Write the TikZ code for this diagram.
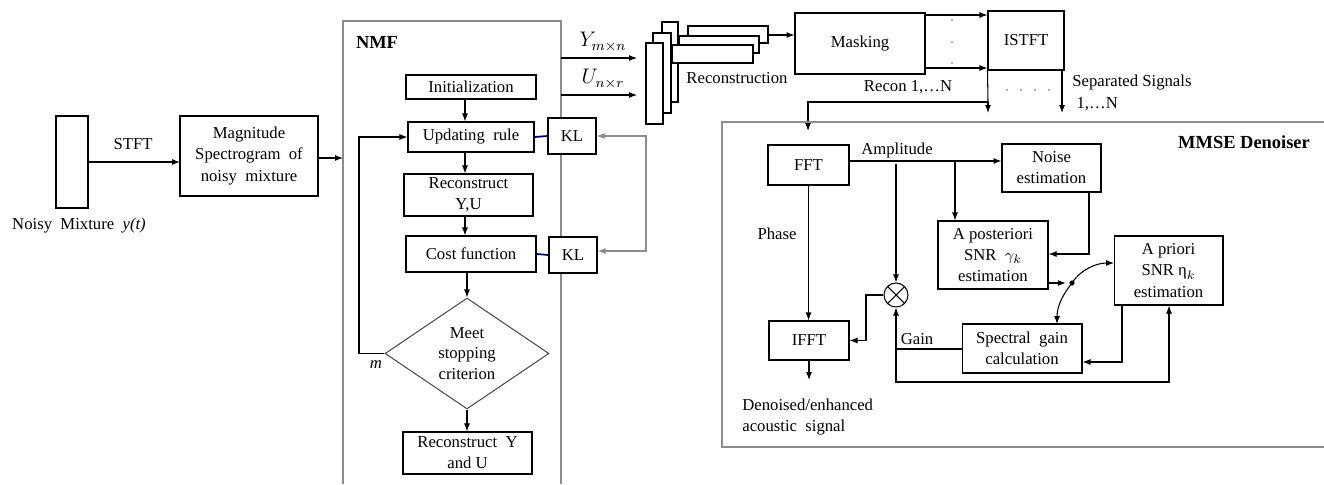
\documentclass[tikz,border=0pt]{standalone}
\usepackage{fontspec}
\setmainfont{Liberation Serif}
\usetikzlibrary{arrows.meta,shapes.geometric,calc}
\begin{document}
\begin{tikzpicture}[x=0.02cm,y=-0.02cm,
  font=\fontsize{9.5}{12}\selectfont,
  bx/.style={draw,line width=0.6pt,inner sep=0pt,align=center,fill=white},
  arr/.style={-{Latex[length=1.6mm,width=1.2mm]},line width=0.6pt},
  ln/.style={line width=0.6pt},
  grayln/.style={draw=black!45,line width=0.7pt},
  blueln/.style={draw=blue!35!black,line width=1pt},
  lbl/.style={inner sep=0pt,align=center},
  ttl/.style={inner sep=0pt,font=\fontsize{10.5}{12}\selectfont\bfseries}]
\useasboundingbox (0,0) rectangle (1324,484);

% ---------- left part
\node[bx,minimum width=0.64cm,minimum height=1.84cm] (mix) at (72,162) {};
\node[lbl] (mixlbl) at (79,226) {Noisy\ \ Mixture\ \ \textit{y(t)}};
\node[bx,minimum width=2.76cm,minimum height=1.6cm] (mag) at (249,156) {Magnitude\\Spectrogram\ \ of\\noisy\ \ mixture};
\coordinate (magin) at (180,162);
\draw[arr] (mix.east |- magin) -- (magin);
\node[lbl] (stft) at (133,144) {STFT};

% ---------- NMF block
\draw[grayln] (343,484) -- (343,21) -- (561,21) -- (561,484);
\node[ttl] (nmft) at (377,42) {NMF};
\coordinate (nmfin) at (343,158);
\draw[arr] (mag.east |- nmfin) -- (nmfin);

\node[bx,minimum width=2.6cm,minimum height=0.48cm] (init) at (471,87) {Initialization};
\node[bx,minimum width=2.52cm,minimum height=0.6cm] (upd) at (471,137) {Updating\ \ rule};
\node[bx,minimum width=0.96cm,minimum height=0.72cm] (kla) at (572,136) {KL};
\node[bx,minimum width=2.58cm,minimum height=0.84cm] (rec) at (468.5,195) {Reconstruct\\Y,U};
\node[bx,minimum width=2.6cm,minimum height=0.72cm] (cost) at (471,254) {Cost function};
\node[bx,minimum width=0.96cm,minimum height=0.72cm] (klb) at (573,255) {KL};
\node[draw=black!70,line width=0.6pt,diamond,aspect=1.48,minimum width=3.28cm,minimum height=2.22cm,inner sep=0pt,align=center,font=\fontsize{9.5}{11.6}\selectfont] (dia) at (467,353.5) {Meet\\stopping\\criterion};
\node[bx,minimum width=2.58cm,minimum height=0.84cm] (recyu) at (467.5,453) {Reconstruct\ \ Y\\and U};

\coordinate (cx) at (465,0);
\draw[arr] (init.south -| cx) -- (upd.north -| cx);
\draw[arr] (upd.south -| cx) -- (rec.north -| cx);
\draw[arr] (rec.south -| cx) -- (cost.north -| cx);
\draw[arr] (cost.south -| dia.north) -- (dia.north);
\draw[arr] (dia.south) -- (recyu.north -| dia.south);
\draw[blueln] (upd.east) -- (kla.west);
\draw[blueln] (cost.east) -- (klb.west);
\coordinate (fbt) at (646,136);
\coordinate (fbb) at (646,251);
\draw[grayln,{Latex[length=1.6mm,width=1.2mm]}-{Latex[length=1.6mm,width=1.2mm]}] (kla.east) -- (fbt) -- (fbb) -- (klb.east |- fbb);
\coordinate (lpa) at (359,353.5);
\coordinate (lpb) at (359,137);
\draw[arr] (dia.west) -- (lpa) -- (lpb) -- (upd.west);
\node[lbl] (mlbl) at (376,365) {\textit{m}};

% ---------- matrices and reconstruction stack
\coordinate (ys) at (561,58);
\coordinate (ye) at (637,58);
\coordinate (us) at (561,95);
\coordinate (ue) at (637,95);
\draw[arr] (ys) -- (ye);
\draw[arr] (us) -- (ue);
\node[lbl,font=\fontsize{11.5}{13}\selectfont] (ylbl) at (603,42) {$Y_{m\times n}$};
\node[lbl,font=\fontsize{11.5}{13}\selectfont] (ulbl) at (603,79) {$U_{n\times r}$};

\node[bx,minimum width=0.32cm,minimum height=1.6cm] (v3) at (670,62) {};
\node[bx,minimum width=1.6cm,minimum height=0.34cm] (h3) at (728,34.5) {};
\node[bx,minimum width=1.6cm,minimum height=0.34cm] (h2) at (719,44.5) {};
\node[bx,minimum width=1.62cm,minimum height=0.36cm] (h1) at (712.5,54) {};
\node[bx,minimum width=0.36cm,minimum height=1.6cm] (v2) at (662,73) {};
\node[bx,minimum width=0.34cm,minimum height=1.62cm] (v1) at (654.5,83.5) {};
\node[lbl] (reclbl) at (737,78) {Reconstruction};

\node[bx,minimum width=2.6cm,minimum height=1.22cm] (mask) at (860,43.5) {Masking};
\node[bx,minimum width=1.52cm,minimum height=1.18cm] (istft) at (1026,40.5) {ISTFT};
\coordinate (mk) at (0,35);
\draw[arr] (h3.east |- mk) -- (mask.west |- mk);
\coordinate (m1) at (0,15);
\coordinate (m2) at (0,68);
\draw[arr] (mask.east |- m1) -- (istft.west |- m1);
\draw[arr] (mask.east |- m2) -- (istft.west |- m2);
\foreach \yy [count=\i] in {20,42,63} \fill[black!60] (952,\yy) circle (0.9) coordinate (dv\i);
\foreach \xx [count=\i] in {1007,1021,1035,1049} \fill[black!60] (\xx,90) circle (0.9) coordinate (dh\i);
\node[lbl] (reconlbl) at (908,87) {Recon 1,\ldots N};
\node[lbl,anchor=west,align=left] (seplbl) at (1072,93) {Separated Signals\\\ 1,\ldots N};

\coordinate (sp) at (988,102);
\coordinate (spe) at (988,113);
\coordinate (fftt) at (808,102);
\coordinate (ffte) at (808,131);
\coordinate (ise) at (1062,113);
\draw[ln] (istft.south west) -- (sp);
\draw[arr] (sp) -- (spe);
\draw[arr] (sp) -- (fftt) -- (ffte);
\draw[arr] (istft.south -| ise) -- (ise);

% ---------- MMSE denoiser
\draw[grayln] (1324,122) -- (722,122) -- (722,447) -- (1324,447);
\node[ttl] (mmset) at (1244,142) {MMSE Denoiser};

\node[bx,minimum width=1.62cm,minimum height=0.8cm] (fft) at (808.5,165) {FFT};
\node[bx,minimum width=1.98cm,minimum height=0.96cm] (noise) at (1051.5,168) {Noise\\estimation};
\node[bx,minimum width=2.2cm,minimum height=1.36cm] (apost) at (993,255) {A posteriori\\SNR\ \ $\gamma_k$\\estimation};
\node[bx,minimum width=2.18cm,minimum height=1.38cm] (apri) at (1168.5,270.5) {A priori\\SNR η$_k$\\estimation};
\node[bx,minimum width=2.4cm,minimum height=0.98cm] (spec) at (1022,348.5) {Spectral\ \ gain\\calculation};
\node[bx,minimum width=1.6cm,minimum height=0.78cm] (ifft) at (809,340.5) {IFFT};
\node[draw,line width=0.6pt,circle,minimum size=0.48cm,inner sep=0pt] (mul) at (896,295) {};
\draw[line width=0.6pt] (mul.north west) -- (mul.south east) (mul.north east) -- (mul.south west);

\coordinate (amp) at (0,161);
\draw[arr] (fft.east |- amp) -- (noise.west |- amp);
\node[lbl] (amplbl) at (897,150) {Amplitude};
\coordinate (b1) at (955,161);
\draw[arr] (b1) -- (apost.north -| b1);
\coordinate (b2) at (896,164);
\draw[arr] (b2) -- (mul.north);
\coordinate (n1) at (1089,254);
\draw[arr] (noise.south -| n1) -- (n1) -- (apost.east |- n1);
\coordinate (dot) at (1072,283);
\fill (dot) circle (2.6);
\draw[arr,shorten >=3.5pt] (apost.east |- dot) -- (dot);
\coordinate (apin) at (1114,263);
\coordinate (spin) at (1057,324);
\draw[arr] (dot) .. controls (1080,270) and (1096,263) .. (apin);
\draw[arr] (dot) .. controls (1064,293) and (1057,305) .. (spin);
\coordinate (q1) at (1122,362);
\draw[arr] (apri.south -| q1) -- (q1) -- (spec.east |- q1);
\coordinate (g1) at (896,382);
\coordinate (g2) at (1169,382);
\draw[{Latex[length=1.6mm,width=1.2mm]}-{Latex[length=1.6mm,width=1.2mm]},line width=0.6pt] (mul.south) -- (g1) -- (g2) -- (apri.south -| g2);
\coordinate (g3) at (896,349);
\draw[ln] (spec.west |- g3) -- (g3);
\node[lbl] (gainlbl) at (917,339) {Gain};
\coordinate (x1) at (866,295);
\draw[arr] (mul.west) -- (x1) -- (x1 |- ifft.east) -- (ifft.east);
\draw[arr] (fft.south) -- (ifft.north -| fft.south);
\node[lbl] (phaselbl) at (777,234) {Phase};
\coordinate (o1) at (809,380);
\draw[arr] (ifft.south) -- (o1);
\node[lbl,anchor=west,align=left] (outlbl) at (742,417) {Denoised/enhanced\\acoustic\ \ signal};
\end{tikzpicture}
\end{document}
